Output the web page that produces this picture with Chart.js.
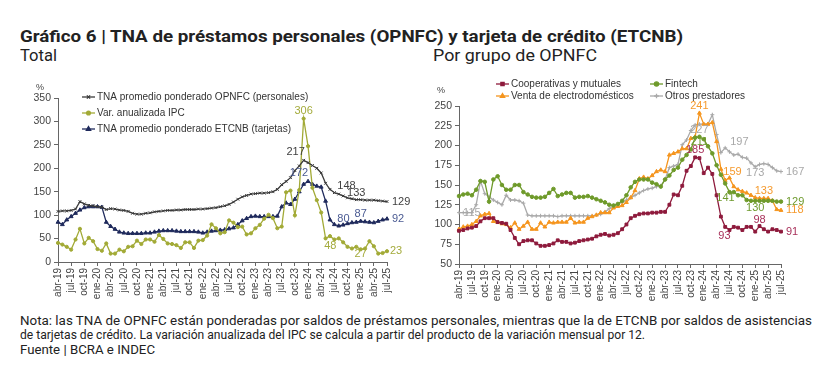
<!DOCTYPE html>
<html>
<head>
<meta charset="utf-8">
<script src="https://cdn.jsdelivr.net/npm/chart.js@4"></script>
<style>
body { margin: 0; background: #fff; font-family: Roboto, "Liberation Sans", sans-serif; color: #222; }
#wrap { position: relative; width: 835px; height: 377px; overflow: hidden; }
.t { position: absolute; white-space: nowrap; transform-origin: 0 0; line-height: 1.2; }
.caja { position: absolute; }
</style>
</head>
<body>
<div id="wrap">
  <div class="t" data-w="663" style="left:20px;top:27px;font-size:16px;font-weight:bold;">Gráfico 6 | TNA de préstamos personales (OPNFC) y tarjeta de crédito (ETCNB)</div>
  <div class="t" data-w="37" style="left:20px;top:46px;font-size:16px;">Total</div>
  <div class="t" data-w="164" style="left:433px;top:46px;font-size:16px;">Por grupo de OPNFC</div>
  <div class="caja" style="left:20px;top:80px;width:400px;height:232px;"><canvas id="total"></canvas></div>
  <div class="caja" style="left:430px;top:75px;width:400px;height:237px;"><canvas id="grupos"></canvas></div>
  <div class="t" data-w="792" style="left:20px;top:314px;font-size:12px;">Nota: las TNA de OPNFC están ponderadas por saldos de préstamos personales, mientras que la de ETCNB por saldos de asistencias</div>
  <div class="t" data-w="625" style="left:20px;top:328px;font-size:12px;">de tarjetas de crédito. La variación anualizada del IPC se calcula a partir del producto de la variación mensual por 12.</div>
  <div class="t" data-w="135" style="left:20px;top:343px;font-size:12px;">Fuente | BCRA e INDEC</div>
</div>
<script>
// meses abr-19 .. jul-25
const meses = [
    "abr-19","may-19","jun-19","jul-19","ago-19","sep-19","oct-19","nov-19","dic-19",
    "ene-20","feb-20","mar-20","abr-20","may-20","jun-20","jul-20","ago-20","sep-20","oct-20","nov-20","dic-20",
    "ene-21","feb-21","mar-21","abr-21","may-21","jun-21","jul-21","ago-21","sep-21","oct-21","nov-21","dic-21",
    "ene-22","feb-22","mar-22","abr-22","may-22","jun-22","jul-22","ago-22","sep-22","oct-22","nov-22","dic-22",
    "ene-23","feb-23","mar-23","abr-23","may-23","jun-23","jul-23","ago-23","sep-23","oct-23","nov-23","dic-23",
    "ene-24","feb-24","mar-24","abr-24","may-24","jun-24","jul-24","ago-24","sep-24","oct-24","nov-24","dic-24",
    "ene-25","feb-25","mar-25","abr-25","may-25","jun-25","jul-25"
];

// Total
const opnfc = [108,109,109,110,113,129,124,121,120, 118,117,112,114,113,111,110,108,104,102,102,104,
    105,107,108,109,110,110,111,111,112,112,112,113, 113,114,115,116,118,120,123,128,134,139,142,145,
    146,147,147,148,150,155,165,172,180,195,205,217, 212,206,200,190,168,155,148,145,141,137,135,133,
    133,132,132,132,131,130,129];
const ipc = [40.8,37.2,32.4,26.4,48,70.8,39.6,51.6,44.4, 27.6,24,39.6,18,18,26.4,22.8,32.4,33.6,45.6,38.4,48,
    48,43.2,57.6,49.2,39.6,38.4,36,30,42,42,30,45.6, 46.8,56.4,80.4,72,61.2,63.6,88.8,84,74.4,75.6,58.8,61.2,
    72,79.2,92.4,100.8,93.6,72,75.6,148.8,152.4,99.6,153.6,306, 247.2,158.4,132,105.6,50.4,55.2,48,50.4,42,32.4,28.8,32.4,
    27,28.8,44.4,33.6,18,19.2,23];
const etcnb = [85,80,90,97,104,111,116,118,118, 118,117,85,76,70,64,62,61,61,61,61,62,
    62,64,66,67,67,67,66,65,65,65,65,64, 62,64,66,67,68,69,71,73,80,88,93,97,
    98,97,97,97,97,98,118,126,123,134,150,166, 172,166,162,160,130,90,80,77,79,82,84,85,
    87,86,85,84,87,90,92];

// Por grupo de OPNFC
const cooperativas = [92,93,95,96,98,104,108,108,108, 103,102,101,93,83,75,79,80,80,76,73,73,
    74,76,80,78,78,76,77,79,80,81,82,85, 87,88,86,87,89,94,100,108,111,113,114,114,
    115,115,116,116,125,138,137,149,168,174,185,184, 165,172,164,137,110,97,93,97,96,93,97,97,
    91,98,94,91,94,93,91];
const fintech = [136,138,139,137,144,155,154,129,157, 161,150,144,144,150,150,141,138,135,134,134,135,
    140,145,136,138,140,140,134,135,135,136,134,132, 130,128,125,124,126,130,137,147,154,157,157,157,
    153,151,148,157,162,169,172,182,188,195,210,211, 208,199,190,175,163,152,141,141,137,137,131,130,
    130,130,130,130,130,129,129];
const electro = [94,97,98,100,104,111,113,114,104, 103,101,100,96,102,94,98,103,94,94,102,97,
    103,102,103,103,103,108,102,103,103,108,110,112, 115,115,115,121,123,124,128,134,143,158,160,158,
    162,167,169,167,188,190,192,196,196,209,211,241, 227,227,229,205,170,156,159,148,144,142,140,137,
    134,133,133,133,130,119,118];
const otros = [115,115,115,115,125,155,139,135,131, 128,125,137,131,131,130,127,112,111,111,111,111,
    111,111,110,111,111,111,111,111,111,111,111,112, 113,116,120,124,126,128,131,134,137,140,143,145,
    146,148,149,157,172,174,176,201,207,219,226,227, 227,227,239,214,191,197,192,188,189,185,184,178,
    173,176,177,176,172,168,167];

Chart.defaults.font.family = '"Liberation Sans", Arial, sans-serif';
Chart.defaults.animation = false;

// etiquetas de valor junto a los puntos
const etiquetasPlugin = {
    id: 'etiquetas',
    afterDatasetsDraw(chart) {
        const ctx = chart.ctx;
        ctx.save();
        ctx.font = '11px "Liberation Sans", Arial, sans-serif';
        ctx.textBaseline = 'middle';
        chart.data.datasets.forEach((ds, d) => {
            const meta = chart.getDatasetMeta(d);
            (ds.etiquetas || []).forEach(([i, dx, dy, al]) => {
                const p = meta.data[i];
                ctx.fillStyle = ds.colorEtiqueta;
                ctx.textAlign = al || 'center';
                ctx.fillText(String(Math.round(ds.data[i])), p.x + dx, p.y + dy);
            });
        });
        ctx.restore();
    }
};

// leyenda con linea y marcador
const leyendaPlugin = {
    id: 'leyenda',
    afterDraw(chart, args, opts) {
        const ctx = chart.ctx;
        ctx.save();
        ctx.font = '10px "Liberation Sans", Arial, sans-serif';
        ctx.textBaseline = 'middle';
        chart.data.datasets.forEach((ds, d) => {
            const [x, y] = opts.pos[d];
            ctx.strokeStyle = ds.borderColor;
            ctx.lineWidth = 1.3;
            ctx.beginPath();
            ctx.moveTo(x, y);
            ctx.lineTo(x + 13, y);
            ctx.stroke();
            ctx.fillStyle = ds.borderColor;
            Chart.helpers.drawPoint(ctx, {
                pointStyle: ds.pointStyle, radius: ds.pointRadius + 0.3, borderWidth: 1
            }, x + 6.5, y);
            ctx.fillStyle = '#333';
            ctx.textAlign = 'left';
            ctx.fillText(ds.label, x + 15, y);
        });
        ctx.fillStyle = '#444';
        ctx.font = '9px "Liberation Sans", Arial, sans-serif';
        ctx.textAlign = 'center';
        ctx.fillText('%', opts.pct[0], opts.pct[1]);
        ctx.restore();
    }
};

function escalas(min, max, paso, anchoY, altoX) {
    return {
        x: {
            offset: false,
            grid: {
                drawOnChartArea: false,
                tickLength: 4,
                color: (c) => (c.index % 3 === 0 ? '#666' : 'rgba(0,0,0,0)')
            },
            border: { display: true, color: '#666' },
            ticks: {
                autoSkip: false, minRotation: 90, maxRotation: 90, padding: 2,
                color: '#444', font: { size: 10 },
                callback: (v, i) => (i % 3 === 0 ? meses[i] : '')
            },
            afterFit: (s) => { s.height = altoX; }
        },
        y: {
            min: min, max: max,
            grid: { drawOnChartArea: false, tickLength: 4, color: '#666' },
            border: { display: true, color: '#666' },
            ticks: { stepSize: paso, color: '#444', font: { size: 10.5 }, padding: 3 },
            afterFit: (s) => { s.width = anchoY; }
        }
    };
}

function serie(label, data, color, estilo, radio, colorEtiqueta, etiquetas) {
    return {
        label: label, data: data,
        borderColor: color, backgroundColor: color,
        borderWidth: 1.3, pointStyle: estilo, pointRadius: radio, pointBorderWidth: 1,
        pointHoverRadius: radio, tension: 0,
        colorEtiqueta: colorEtiqueta, etiquetas: etiquetas
    };
}

new Chart(document.getElementById('total'), {
    type: 'line',
    data: {
        labels: meses,
        datasets: [
            serie('TNA promedio ponderado OPNFC (personales)', opnfc, '#3a3a3a', 'crossRot', 2, '#3f3f3f',
                [[56, -8, -8], [63, 3, -7, 'left'], [68, 0, -7], [75, 5, 0, 'left']]),
            serie('Var. anualizada IPC', ipc, '#a2aa36', 'circle', 1.6, '#a4ab3c',
                [[56, 0, -8], [63, -4, 6], [69, 0, 5], [75, 3, 0, 'left']]),
            serie('TNA promedio ponderado ETCNB (tarjetas)', etcnb, '#1f2a5c', 'triangle', 2.2, '#4a5a92',
                [[57, -9, -8], [63, 3, -6, 'left'], [69, 0, -7], [75, 5, 0, 'left']])
        ]
    },
    options: {
        responsive: true,
        maintainAspectRatio: false,
        layout: { padding: { top: 18, right: 33, left: 0, bottom: 0 } },
        scales: escalas(0, 350, 50, 38, 50),
        plugins: {
            legend: { display: false },
            tooltip: { enabled: false },
            leyenda: { pos: [[62, 17], [62, 33], [62, 49]], pct: [20, 8] }
        }
    },
    plugins: [etiquetasPlugin, leyendaPlugin]
});

new Chart(document.getElementById('grupos'), {
    type: 'line',
    data: {
        labels: meses,
        datasets: [
            serie('Cooperativas y mutuales', cooperativas, '#8e1a3c', 'rect', 2, '#a8305a',
                [[55, 0, -7], [63, -5, 6], [70, 0, -6], [75, 5, 0, 'left']]),
            serie('Fintech', fintech, '#6e9a2a', 'circle', 1.8, '#6e9a2e',
                [[56, 0, 5], [63, -4, 6], [69, 0, 7], [75, 5, 0, 'left']]),
            serie('Venta de electrodomésticos', electro, '#f5951e', 'triangle', 2.2, '#f59a2e',
                [[56, 0, -7], [63, 3, -6], [71, 0, -7], [75, 5, 0, 'left']]),
            serie('Otros prestadores', otros, '#a9a9a9', 'cross', 2, '#a8a8a8',
                [[3, 0, 0], [56, 0, 6], [62, 5, -6, 'left'], [69, 0, 6], [75, 5, 0, 'left']])
        ]
    },
    options: {
        responsive: true,
        maintainAspectRatio: false,
        layout: { padding: { top: 31, right: 49, left: 0, bottom: 0 } },
        scales: escalas(50, 250, 25, 29, 48),
        plugins: {
            legend: { display: false },
            tooltip: { enabled: false },
            leyenda: { pos: [[66, 9], [220, 9], [66, 21], [220, 21]], pct: [11, 16] }
        }
    },
    plugins: [etiquetasPlugin, leyendaPlugin]
});

// ajustar ancho de los textos al original
document.querySelectorAll('[data-w]').forEach((el) => {
    const w = el.getBoundingClientRect().width;
    el.style.transform = 'scaleX(' + (el.dataset.w / w) + ')';
});
</script>
</body>
</html>
